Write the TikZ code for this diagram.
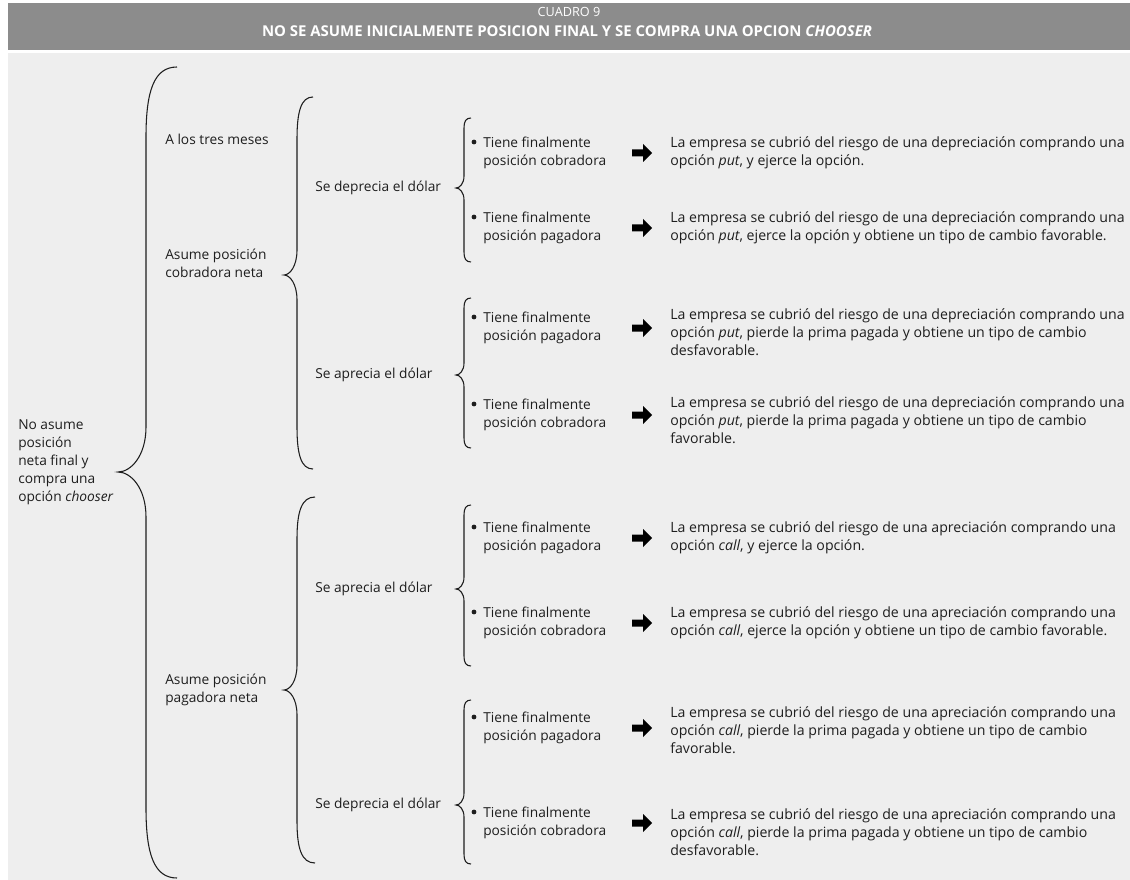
\documentclass[tikz,border=0pt]{standalone}
\usepackage{fontspec}
\setmainfont{Open Sans}
\definecolor{hdr}{HTML}{8C8C8C}
\definecolor{bodybg}{HTML}{EEEEEE}
\definecolor{ink}{HTML}{1E1E1E}
\tikzset{
  txt/.style={anchor=west, align=left, inner sep=0pt, text=ink, font=\fontsize{10.3}{13.5}\selectfont},
  rtxt/.style={anchor=west, align=left, inner sep=0pt, text=ink, font=\fontsize{10.6}{13.5}\selectfont},
  bul/.style={circle, fill=ink, inner sep=0pt, minimum size=3.6pt},
  brc/.style={draw=ink, line width=0.8pt},
  blk/.style={fill=black},
}
\newcommand{\drawbrace}[8]{%
  \draw[brc] (#2,#4) .. controls ({#1+0.25*(#2-#1)},#4) and (#1,{#4+0.35*#7}) .. (#1,{#4+#7})
    -- (#1,{#6-#8}) .. controls (#1,{#6-0.35*#8}) and ({#3+0.45*(#1-#3)},#6) .. (#3,#6)
    .. controls ({#3+0.45*(#1-#3)},#6) and (#1,{#6+0.35*#8}) .. (#1,{#6+#8})
    -- (#1,{#5-#7}) .. controls (#1,{#5-0.35*#7}) and ({#1+0.25*(#2-#1)},#5) .. (#2,#5);}
\newcommand{\blockarrow}[2]{%
  \fill[blk] (#1,{#2-3.5}) -- ({#1+11},{#2-3.5}) -- ({#1+11},{#2-9}) -- ({#1+20},#2)
    -- ({#1+11},{#2+9}) -- ({#1+11},{#2+3.5}) -- (#1,{#2+3.5}) -- cycle;}
\begin{document}
\begin{tikzpicture}[x=0.75pt,y=-0.75pt]
\useasboundingbox (0,0) rectangle (1130,880);
\clip (0,0) rectangle (1130,880);
\fill[white] (0,0) rectangle (1130,880);
\fill[hdr] (8,3) rectangle (1130,50);
\fill[bodybg] (8,53) rectangle (1130,880);
\node[inner sep=0pt, text=white, font=\fontsize{9.5}{11}\selectfont] (cuadro) at (569,12) {CUADRO 9};
\node[inner sep=0pt, text=white, font=\fontsize{11.2}{12}\selectfont\bfseries] (title) at (567,31) {NO SE ASUME INICIALMENTE POSICION FINAL Y SE COMPRA UNA OPCION \textit{CHOOSER}};

% level 0
\node[txt] (root) at (18,462) {No asume\\posición\\neta final y\\compra una\\opción \textit{chooser}};
\drawbrace{146}{177}{118}{67}{878}{472}{70}{45}

% level 1
\node[txt] (tres) at (165,139) {A los tres meses};
\node[txt] (cobn) at (165,263) {Asume posición\\cobradora neta};
\node[txt] (pagn) at (165,690) {Asume posición\\pagadora neta};
\drawbrace{297}{313}{284}{97}{469}{275}{42}{25}
\drawbrace{297}{315}{284}{497}{863}{690}{42}{25}

% level 2
\node[txt] (depA) at (315,188) {Se deprecia el dólar};
\node[txt] (aprA) at (315,375) {Se aprecia el dólar};
\node[txt] (aprB) at (315,589) {Se aprecia el dólar};
\node[txt] (depB) at (315,805) {Se deprecia el dólar};
\drawbrace{464}{471}{456}{118}{262}{188}{10}{12}
\drawbrace{464}{471}{456}{298}{448}{375}{10}{12}
\drawbrace{464}{471}{456}{505}{666}{589}{10}{12}
\drawbrace{464}{471}{456}{700}{864}{805}{10}{12}

% rows
% row 1
\node[bul] (b1) at (474,142) {};
\node[txt] (l1) at (483,153) {Tiene finalmente\\posición cobradora};
\blockarrow{632}{153}
\node[rtxt] (r1) at (670,153) {La empresa se cubrió del riesgo de una depreciación comprando una\\opción \textit{put}, y ejerce la opción.};
% row 2
\node[bul] (b2) at (474,217) {};
\node[txt] (l2) at (483,228) {Tiene finalmente\\posición pagadora};
\blockarrow{632}{228}
\node[rtxt] (r2) at (670,228) {La empresa se cubrió del riesgo de una depreciación comprando una\\opción \textit{put}, ejerce la opción y obtiene un tipo de cambio favorable.};
% row 3
\node[bul] (b3) at (474,317) {};
\node[txt] (l3) at (483,328) {Tiene finalmente\\posición pagadora};
\blockarrow{632}{328}
\node[rtxt] (r3) at (670,332) {La empresa se cubrió del riesgo de una depreciación comprando una\\opción \textit{put}, pierde la prima pagada y obtiene un tipo de cambio\\desfavorable.};
% row 4
\node[bul] (b4) at (474,404) {};
\node[txt] (l4) at (483,415) {Tiene finalmente\\posición cobradora};
\blockarrow{632}{415}
\node[rtxt] (r4) at (670,420) {La empresa se cubrió del riesgo de una depreciación comprando una\\opción \textit{put}, pierde la prima pagada y obtiene un tipo de cambio\\favorable.};
% row 5
\node[bul] (b5) at (474,527) {};
\node[txt] (l5) at (483,538) {Tiene finalmente\\posición pagadora};
\blockarrow{632}{538}
\node[rtxt] (r5) at (670,538) {La empresa se cubrió del riesgo de una apreciación comprando una\\opción \textit{call}, y ejerce la opción.};
% row 6
\node[bul] (b6) at (474,612) {};
\node[txt] (l6) at (483,623) {Tiene finalmente\\posición cobradora};
\blockarrow{632}{623}
\node[rtxt] (r6) at (670,623) {La empresa se cubrió del riesgo de una apreciación comprando una\\opción \textit{call}, ejerce la opción y obtiene un tipo de cambio favorable.};
% row 7
\node[bul] (b7) at (474,717) {};
\node[txt] (l7) at (483,728) {Tiene finalmente\\posición pagadora};
\blockarrow{632}{728}
\node[rtxt] (r7) at (670,730) {La empresa se cubrió del riesgo de una apreciación comprando una\\opción \textit{call}, pierde la prima pagada y obtiene un tipo de cambio\\favorable.};
% row 8
\node[bul] (b8) at (474,812) {};
\node[txt] (l8) at (483,823) {Tiene finalmente\\posición cobradora};
\blockarrow{632}{823}
\node[rtxt] (r8) at (670,832) {La empresa se cubrió del riesgo de una apreciación comprando una\\opción \textit{call}, pierde la prima pagada y obtiene un tipo de cambio\\desfavorable.};
\end{tikzpicture}
\end{document}
